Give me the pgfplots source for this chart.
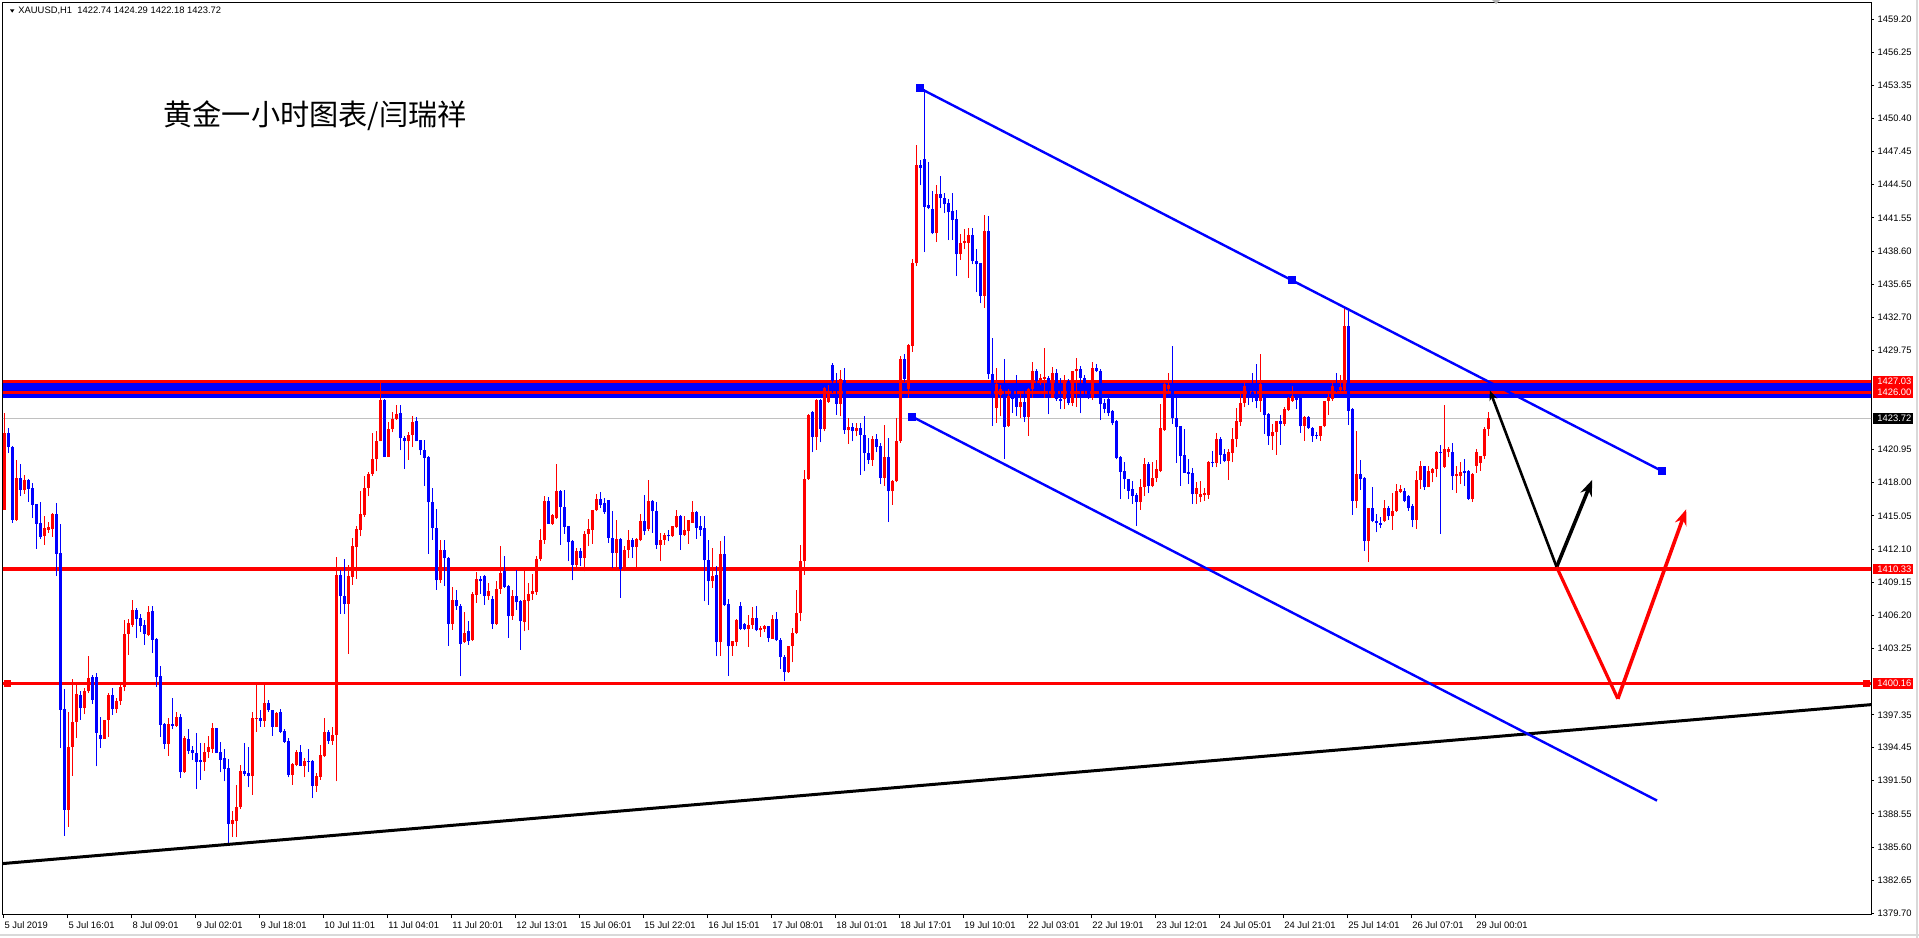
\documentclass[border=0pt]{standalone}
\usepackage{fontspec}
\setmainfont{Liberation Sans}
\newfontfamily\cjk{Noto Sans CJK SC}
\usepackage{pgfplots}
\usepackage{pgfplotstable}
\pgfplotsset{compat=1.18}
\usetikzlibrary{arrows.meta}

\definecolor{bidgray}{RGB}{192,192,192}

% hourly XAUUSD candles, x = bar number
\pgfplotstableread{
i o h l c
0 1415.58 1424.20 1415.58 1422.40
1 1422.40 1422.84 1420.62 1421.15
2 1421.15 1421.27 1414.45 1414.69
3 1414.69 1420.03 1414.63 1418.40
4 1418.40 1419.67 1416.77 1417.36
5 1417.36 1418.69 1417.00 1418.25
6 1418.25 1418.34 1416.32 1417.45
7 1417.50 1417.95 1414.84 1416.02
8 1416.10 1416.10 1412.11 1414.34
9 1414.40 1416.32 1412.97 1413.21
10 1413.30 1415.05 1412.47 1413.95
11 1413.80 1414.54 1413.56 1414.10
12 1413.90 1415.34 1413.21 1415.22
13 1415.22 1416.17 1409.71 1411.67
14 1411.73 1414.34 1394.39 1397.80
15 1397.85 1399.63 1386.59 1388.90
16 1388.90 1397.65 1387.42 1394.48
17 1394.48 1400.52 1391.93 1396.76
18 1396.70 1400.00 1395.28 1399.22
19 1399.13 1399.43 1396.90 1397.94
20 1397.94 1399.72 1397.40 1399.43
21 1399.43 1402.60 1399.28 1400.61
22 1400.70 1400.90 1398.33 1398.68
23 1400.76 1401.10 1392.76 1395.78
24 1395.57 1397.20 1394.39 1395.19
25 1395.19 1396.90 1395.19 1396.90
26 1396.90 1399.28 1395.40 1399.13
27 1399.13 1399.72 1397.35 1397.85
28 1397.85 1398.83 1397.50 1398.54
29 1398.54 1400.16 1398.24 1399.87
30 1399.87 1405.80 1399.43 1404.55
31 1404.55 1405.86 1402.70 1405.50
32 1405.35 1407.58 1405.20 1406.69
33 1406.69 1406.84 1404.17 1405.86
34 1405.95 1406.33 1404.76 1405.26
35 1405.35 1405.80 1403.58 1404.55
36 1404.46 1407.04 1404.32 1406.54
37 1406.63 1407.04 1402.84 1404.02
38 1404.08 1404.17 1399.87 1400.70
39 1400.82 1401.70 1395.40 1396.46
40 1396.55 1396.60 1394.30 1394.78
41 1394.78 1397.05 1393.70 1396.55
42 1396.55 1398.83 1396.07 1396.37
43 1396.37 1397.65 1396.30 1397.20
44 1397.20 1397.44 1391.72 1392.23
45 1392.23 1395.43 1392.20 1395.28
46 1395.19 1396.07 1393.88 1394.18
47 1394.24 1394.60 1393.35 1393.94
48 1393.94 1395.78 1390.74 1393.20
49 1393.30 1394.83 1391.60 1393.20
50 1393.20 1394.83 1392.40 1394.09
51 1394.09 1395.43 1393.50 1394.48
52 1394.30 1396.60 1394.00 1396.16
53 1396.16 1396.16 1393.94 1393.94
54 1394.09 1394.98 1392.23 1393.35
55 1393.50 1394.30 1391.43 1392.52
56 1392.60 1393.40 1385.88 1387.66
57 1387.66 1388.76 1386.50 1388.00
58 1387.95 1391.13 1386.50 1389.20
59 1389.14 1392.90 1388.96 1392.40
60 1392.40 1394.83 1391.90 1392.10
61 1392.20 1394.50 1390.92 1391.90
62 1391.90 1397.65 1390.24 1397.05
63 1397.05 1400.10 1395.87 1397.10
64 1397.05 1397.74 1396.30 1396.85
65 1396.85 1400.10 1396.30 1398.39
66 1398.39 1398.68 1397.65 1397.74
67 1397.74 1397.80 1395.48 1396.30
68 1396.30 1397.65 1396.25 1397.56
69 1397.65 1397.85 1395.72 1395.87
70 1395.96 1396.08 1394.83 1394.98
71 1395.07 1395.28 1391.80 1392.02
72 1392.02 1393.05 1391.13 1393.00
73 1392.90 1394.24 1392.76 1394.09
74 1394.09 1394.68 1392.76 1392.82
75 1392.82 1393.50 1391.80 1393.29
76 1393.29 1394.30 1392.30 1393.20
77 1393.29 1393.35 1389.94 1391.04
78 1391.04 1392.16 1390.53 1391.93
79 1391.87 1394.68 1391.57 1393.79
80 1393.65 1397.05 1393.59 1395.87
81 1395.87 1396.00 1394.78 1395.07
82 1395.07 1396.25 1394.68 1395.57
83 1395.57 1411.43 1391.43 1409.80
84 1409.82 1410.27 1406.35 1407.90
85 1407.95 1411.20 1406.35 1407.24
86 1407.24 1410.71 1402.80 1409.67
87 1409.60 1413.08 1408.93 1412.34
88 1412.28 1414.18 1409.44 1413.88
89 1413.82 1417.23 1413.23 1415.25
90 1415.16 1418.62 1414.95 1417.53
91 1417.53 1418.92 1416.79 1418.80
92 1418.80 1422.42 1418.62 1420.11
93 1420.11 1422.57 1419.01 1421.68
94 1421.68 1427.16 1421.68 1425.32
95 1425.32 1425.44 1420.28 1420.28
96 1420.28 1423.37 1420.28 1422.77
97 1422.77 1424.26 1422.48 1423.66
98 1423.66 1424.94 1423.60 1424.14
99 1424.20 1424.94 1420.88 1421.97
100 1421.97 1422.12 1419.22 1421.68
101 1421.68 1422.48 1420.05 1422.27
102 1422.27 1423.90 1421.17 1423.37
103 1423.46 1423.84 1421.68 1421.68
104 1421.77 1421.83 1420.50 1420.88
105 1420.94 1421.83 1417.74 1420.20
106 1420.28 1420.34 1411.69 1416.25
107 1416.25 1417.53 1412.93 1413.97
108 1413.97 1415.66 1408.49 1409.32
109 1409.32 1412.87 1409.08 1412.04
110 1412.04 1412.87 1408.84 1411.30
111 1411.30 1411.39 1403.51 1405.46
112 1405.46 1408.72 1404.93 1407.60
113 1407.60 1408.43 1406.71 1407.00
114 1407.06 1407.24 1400.78 1403.69
115 1403.80 1406.47 1403.75 1404.63
116 1404.78 1405.67 1403.60 1403.89
117 1403.98 1408.25 1403.90 1408.13
118 1408.04 1410.03 1407.30 1409.44
119 1409.44 1409.73 1408.13 1409.23
120 1409.73 1409.82 1407.15 1407.90
121 1407.90 1409.08 1407.60 1408.34
122 1407.65 1407.90 1405.00 1405.46
123 1405.46 1409.23 1405.37 1408.55
124 1408.55 1412.40 1408.13 1409.97
125 1410.12 1411.51 1408.64 1408.72
126 1408.84 1408.93 1404.19 1406.17
127 1406.17 1408.43 1405.82 1407.95
128 1407.95 1410.27 1406.71 1407.36
129 1407.45 1407.60 1403.15 1405.67
130 1405.58 1410.27 1404.78 1407.54
131 1407.45 1409.08 1404.87 1408.13
132 1408.13 1409.91 1407.60 1408.34
133 1408.25 1411.45 1408.04 1411.21
134 1411.21 1413.88 1411.00 1412.93
135 1412.93 1416.84 1412.58 1416.34
136 1416.34 1416.73 1414.36 1414.36
137 1414.36 1415.25 1414.27 1415.16
138 1414.86 1419.69 1414.77 1417.23
139 1417.23 1417.32 1412.49 1415.84
140 1415.84 1417.32 1413.47 1414.06
141 1414.12 1414.18 1411.00 1412.70
142 1412.78 1412.93 1409.32 1410.71
143 1410.71 1412.19 1410.50 1411.90
144 1411.90 1412.19 1410.56 1411.30
145 1411.30 1413.68 1410.12 1413.47
146 1413.47 1414.77 1412.34 1413.88
147 1413.82 1415.60 1412.58 1415.54
148 1415.54 1417.02 1415.45 1416.55
149 1416.55 1417.14 1415.75 1416.05
150 1416.19 1416.64 1415.25 1415.36
151 1416.43 1416.49 1412.64 1413.08
152 1413.08 1415.45 1410.41 1411.75
153 1411.75 1414.71 1410.33 1413.00
154 1413.00 1413.08 1407.75 1410.33
155 1410.33 1412.40 1410.12 1412.04
156 1412.04 1413.76 1411.30 1412.87
157 1412.87 1413.08 1411.30 1412.28
158 1412.28 1413.08 1410.50 1413.00
159 1412.87 1415.25 1412.78 1414.57
160 1414.57 1416.93 1413.38 1413.68
161 1413.90 1418.21 1413.70 1416.34
162 1416.34 1416.49 1413.53 1415.45
163 1415.45 1416.25 1412.10 1412.49
164 1412.49 1413.53 1411.00 1412.93
165 1412.93 1413.53 1412.49 1413.32
166 1413.32 1413.82 1412.78 1413.23
167 1413.23 1414.18 1413.17 1414.18
168 1414.06 1415.60 1413.97 1415.07
169 1415.07 1415.16 1412.05 1413.38
170 1413.38 1415.01 1413.29 1413.77
171 1413.68 1414.71 1412.58 1414.66
172 1414.42 1416.34 1414.42 1415.37
173 1415.37 1415.45 1413.00 1413.97
174 1414.12 1415.01 1413.29 1413.83
175 1413.97 1415.07 1407.45 1411.10
176 1411.16 1412.94 1407.16 1409.23
177 1409.23 1412.20 1408.64 1409.73
178 1409.82 1410.56 1402.56 1403.81
179 1403.81 1412.79 1402.62 1411.69
180 1411.69 1413.23 1407.07 1407.16
181 1407.25 1407.66 1400.84 1403.45
182 1403.45 1403.90 1402.62 1403.90
183 1403.81 1405.88 1403.45 1405.82
184 1407.07 1407.36 1404.93 1404.99
185 1405.47 1405.53 1404.87 1404.99
186 1404.99 1406.27 1403.39 1405.38
187 1405.38 1406.95 1404.99 1405.97
188 1405.97 1407.00 1404.78 1404.87
189 1404.87 1405.29 1404.28 1405.08
190 1404.99 1405.38 1404.70 1405.23
191 1405.23 1405.29 1403.81 1404.19
192 1404.10 1406.27 1404.10 1405.88
193 1405.88 1406.47 1403.90 1403.98
194 1404.04 1404.19 1401.44 1402.50
195 1402.50 1402.71 1400.34 1401.14
196 1401.14 1403.51 1401.08 1403.45
197 1403.45 1405.08 1402.03 1404.64
198 1404.64 1408.43 1404.58 1406.42
199 1406.42 1412.49 1405.67 1411.01
200 1411.01 1419.16 1409.82 1418.33
201 1418.33 1424.14 1418.27 1424.05
202 1424.26 1424.35 1420.70 1422.07
203 1422.07 1425.45 1420.94 1425.33
204 1425.33 1425.45 1421.59 1422.78
205 1422.78 1426.51 1422.57 1426.42
206 1425.20 1426.72 1425.09 1426.10
207 1428.50 1428.60 1426.00 1427.00
208 1425.83 1427.76 1424.05 1425.03
209 1425.03 1428.05 1423.90 1427.22
210 1427.10 1428.20 1422.36 1422.66
211 1422.66 1423.75 1421.47 1422.95
212 1422.95 1423.31 1421.68 1422.57
213 1422.57 1423.31 1422.12 1422.87
214 1422.87 1423.31 1418.72 1422.27
215 1422.27 1423.90 1419.01 1420.64
216 1420.64 1421.98 1419.69 1420.05
217 1420.05 1422.12 1419.52 1421.89
218 1421.89 1422.36 1420.70 1421.18
219 1421.24 1421.53 1417.92 1418.42
220 1418.42 1423.16 1417.74 1420.29
221 1420.29 1421.98 1414.48 1417.23
222 1417.23 1418.27 1416.05 1418.12
223 1418.12 1423.75 1418.03 1421.68
224 1421.68 1429.24 1421.53 1429.00
225 1429.02 1429.40 1426.95 1427.20
226 1426.30 1430.30 1425.55 1430.21
227 1430.15 1437.86 1429.62 1437.56
228 1437.50 1447.99 1437.26 1446.21
229 1446.21 1446.69 1444.44 1446.00
230 1446.81 1453.00 1438.51 1442.54
231 1442.66 1446.51 1442.30 1442.45
232 1442.36 1443.93 1440.08 1440.17
233 1440.17 1444.44 1439.40 1443.63
234 1443.63 1445.27 1442.45 1443.34
235 1443.34 1443.78 1441.95 1442.75
236 1442.84 1443.19 1439.57 1442.06
237 1442.15 1443.72 1439.57 1441.35
238 1441.41 1442.24 1436.37 1438.30
239 1438.30 1440.08 1437.80 1439.28
240 1439.28 1440.52 1438.74 1439.49
241 1439.34 1440.67 1436.23 1439.99
242 1439.99 1440.67 1437.41 1437.71
243 1437.71 1438.74 1434.95 1437.41
244 1437.50 1437.56 1433.94 1434.60
245 1434.60 1441.77 1433.56 1440.38
246 1440.38 1441.71 1427.19 1427.63
247 1427.63 1430.89 1423.04 1425.55
248 1424.67 1428.22 1423.33 1426.74
249 1425.80 1426.70 1423.90 1426.30
250 1425.55 1428.96 1420.13 1422.97
251 1423.03 1426.35 1422.97 1425.70
252 1426.30 1426.44 1424.22 1425.40
253 1425.55 1427.54 1423.92 1424.75
254 1424.75 1426.15 1423.78 1425.17
255 1425.17 1426.35 1423.39 1423.87
256 1423.87 1426.44 1422.15 1426.30
257 1426.36 1428.73 1425.55 1427.93
258 1427.93 1428.13 1426.30 1427.04
259 1427.04 1427.63 1426.65 1427.33
260 1427.25 1430.00 1425.55 1427.42
261 1427.33 1427.48 1424.07 1426.30
262 1425.55 1428.31 1425.55 1427.72
263 1427.72 1428.07 1425.26 1425.40
264 1425.40 1427.33 1424.52 1425.26
265 1425.40 1427.54 1424.58 1427.04
266 1427.04 1427.19 1424.87 1425.11
267 1425.11 1427.93 1424.81 1427.93
268 1427.90 1429.10 1424.75 1428.07
269 1428.07 1428.37 1424.16 1427.33
270 1427.33 1427.54 1425.55 1426.30
271 1426.30 1426.44 1425.46 1425.55
272 1425.55 1428.73 1425.35 1428.22
273 1428.22 1428.52 1427.84 1427.93
274 1427.93 1428.07 1423.57 1424.96
275 1425.05 1425.40 1424.16 1424.58
276 1425.46 1425.55 1423.92 1424.16
277 1424.37 1424.46 1423.09 1423.27
278 1423.48 1423.57 1420.07 1420.22
279 1420.31 1420.37 1416.52 1418.94
280 1419.03 1419.83 1417.47 1418.30
281 1418.30 1418.35 1416.52 1417.26
282 1417.44 1418.18 1416.10 1416.85
283 1416.90 1417.08 1414.18 1416.31
284 1416.31 1418.33 1415.60 1417.59
285 1417.59 1420.16 1416.84 1419.66
286 1419.66 1419.87 1417.08 1417.73
287 1417.73 1419.87 1417.59 1418.39
288 1418.39 1420.05 1418.03 1419.22
289 1419.07 1425.00 1418.92 1422.83
290 1422.71 1426.92 1422.62 1426.77
291 1426.33 1427.75 1426.18 1426.68
292 1426.68 1430.12 1423.22 1423.72
293 1423.72 1425.50 1419.75 1422.92
294 1423.01 1423.07 1417.73 1420.40
295 1420.46 1422.77 1418.86 1418.86
296 1418.98 1420.10 1417.88 1418.77
297 1418.86 1419.27 1416.10 1416.99
298 1416.99 1418.03 1416.10 1417.50
299 1416.76 1418.18 1416.25 1417.00
300 1416.90 1417.50 1416.40 1417.08
301 1416.90 1419.96 1416.55 1419.81
302 1419.87 1420.85 1419.37 1419.75
303 1419.75 1422.42 1419.37 1421.88
304 1421.88 1422.03 1419.66 1420.46
305 1420.55 1421.00 1419.81 1419.96
306 1419.96 1421.00 1418.27 1420.70
307 1420.64 1422.83 1419.81 1421.88
308 1421.88 1424.61 1421.14 1423.51
309 1423.42 1425.88 1423.07 1425.08
310 1425.08 1426.86 1424.70 1426.57
311 1426.18 1426.77 1424.91 1425.88
312 1426.03 1427.75 1425.14 1425.80
313 1425.74 1428.55 1424.61 1425.29
314 1425.29 1429.44 1424.31 1426.77
315 1425.74 1425.88 1422.33 1424.02
316 1424.11 1424.20 1421.35 1422.12
317 1422.12 1423.22 1420.93 1422.48
318 1422.48 1423.51 1420.46 1423.51
319 1423.51 1424.02 1421.35 1423.22
320 1423.22 1424.70 1423.07 1424.55
321 1424.49 1425.59 1424.40 1425.50
322 1425.29 1426.57 1425.20 1425.74
323 1425.74 1425.80 1424.55 1425.38
324 1425.74 1425.80 1422.42 1423.01
325 1423.01 1423.96 1421.74 1423.81
326 1423.81 1423.96 1422.77 1422.83
327 1422.83 1422.92 1421.65 1422.18
328 1422.24 1422.48 1421.88 1422.18
329 1422.18 1423.01 1421.74 1423.01
330 1423.01 1425.29 1422.92 1425.29
331 1425.29 1425.88 1424.02 1425.59
332 1425.44 1426.86 1425.29 1426.57
333 1426.33 1427.75 1426.10 1426.18
334 1426.27 1427.57 1426.18 1426.48
335 1426.27 1433.60 1426.10 1431.90
336 1431.90 1433.30 1423.13 1424.40
337 1424.55 1424.61 1415.13 1416.40
338 1416.40 1422.62 1415.72 1418.77
339 1418.77 1420.05 1417.38 1418.33
340 1418.39 1418.48 1411.95 1412.84
341 1412.84 1415.72 1410.98 1415.72
342 1415.72 1417.59 1414.47 1414.62
343 1414.62 1415.21 1413.58 1414.41
344 1414.41 1414.92 1413.94 1414.24
345 1414.62 1416.49 1414.53 1415.72
346 1415.72 1415.90 1414.71 1415.00
347 1415.00 1417.08 1413.82 1415.51
348 1415.51 1417.88 1415.42 1417.29
349 1417.20 1417.79 1417.08 1417.44
350 1417.29 1417.50 1416.25 1416.40
351 1416.84 1416.90 1415.51 1415.72
352 1415.90 1416.10 1414.03 1414.71
353 1414.71 1419.07 1413.88 1418.27
354 1418.27 1419.96 1417.44 1419.45
355 1419.45 1419.51 1417.38 1417.59
356 1417.59 1419.51 1417.59 1419.07
357 1418.86 1419.28 1418.03 1419.22
358 1419.22 1420.85 1418.48 1420.70
359 1420.76 1421.35 1413.44 1420.70
360 1419.37 1424.91 1419.28 1421.00
361 1420.70 1421.14 1420.25 1421.00
362 1420.76 1421.53 1417.38 1418.56
363 1418.56 1419.45 1417.08 1418.77
364 1418.62 1419.87 1417.88 1418.98
365 1419.07 1420.10 1417.73 1418.86
366 1419.07 1419.16 1416.49 1416.55
367 1416.55 1418.86 1416.31 1418.77
368 1419.51 1421.00 1418.86 1420.76
369 1419.75 1420.40 1419.07 1420.34
370 1420.34 1422.92 1420.10 1422.77
371 1422.74 1424.29 1422.18 1423.72
}\candles

\begin{document}
\begin{tikzpicture}
\fill[white] (0,0) rectangle (959.5pt,-469pt);
\path[use as bounding box] (0,0) rectangle (959.5pt,-469pt);
\draw[black!15, line width=1pt] (0,-467.5pt) -- (959.5pt,-467.5pt);
\draw[black!15, line width=1pt] (958.3pt,0) -- (958.3pt,-469pt);

\begin{axis}[
  at={(1.5pt,-457.35pt)}, anchor=south west,
  scale only axis, width=934pt, height=456pt,
  xmin=-0.33, xmax=466.7, ymin=1379.58, ymax=1460.68,
  clip mode=individual,
  axis line style={line width=0.5pt},
  tick align=outside, major tick length=1.6pt,
  tick style={black, line width=0.5pt},
  tick label style={font=\fontsize{4.7}{5}\selectfont},
  xtick pos=bottom, ytick pos=right, yticklabel pos=right,
  xtick={-0.3,15.7,31.7,47.7,63.7,79.7,95.7,111.7,127.7,143.7,159.7,175.7,191.7,207.7,223.7,239.7,255.7,271.7,287.7,303.7,319.7,335.7,351.7,367.7},
  xticklabels={5 Jul 2019,5 Jul 16:01,8 Jul 09:01,9 Jul 02:01,9 Jul 18:01,10 Jul 11:01,11 Jul 04:01,11 Jul 20:01,12 Jul 13:01,15 Jul 06:01,15 Jul 22:01,16 Jul 15:01,17 Jul 08:01,18 Jul 01:01,18 Jul 17:01,19 Jul 10:01,22 Jul 03:01,22 Jul 19:01,23 Jul 12:01,24 Jul 05:01,24 Jul 21:01,25 Jul 14:01,26 Jul 07:01,29 Jul 00:01},
  xticklabel style={anchor=north west, inner sep=0pt, xshift=0.5pt, yshift=-1.5pt},
  ytick={1379.70,1382.65,1385.60,1388.55,1391.50,1394.45,1397.35,1403.25,1406.20,1409.15,1412.10,1415.05,1418.00,1420.95,1429.75,1432.70,1435.65,1438.60,1441.55,1444.50,1447.45,1450.40,1453.35,1456.25,1459.20},
  yticklabels={1379.70,1382.65,1385.60,1388.55,1391.50,1394.45,1397.35,1403.25,1406.20,1409.15,1412.10,1415.05,1418.00,1420.95,1429.75,1432.70,1435.65,1438.60,1441.55,1444.50,1447.45,1450.40,1453.35,1456.25,1459.20},
  yticklabel style={anchor=west, inner sep=0pt, xshift=1.5pt},
]

% bid line and resistance band
\addplot[forget plot, bidgray, line width=0.5pt] coordinates {(-1,1423.72) (470,1423.72)};
\addplot[forget plot, blue, line width=8.8pt] coordinates {(-1,1426.30) (470,1426.30)};
\addplot[forget plot, red, line width=1.4pt] coordinates {(-1,1426.97) (470,1426.97)};
\addplot[forget plot, red, line width=1.5pt] coordinates {(-1,1426.02) (470,1426.02)};
\addplot[forget plot, red, line width=1.6pt] coordinates {(-1,1410.33) (470,1410.33)};
\addplot[forget plot, red, line width=1.5pt] coordinates {(-1,1400.16) (470,1400.16)};
\addplot[forget plot, red, only marks, mark=square*, mark size=1.6pt] coordinates {(0.7,1400.16) (465.6,1400.16)};

% wicks and bodies, red = close above open
\addplot[forget plot, draw=none, mark=none,
  y filter/.expression={\thisrow{c}>=\thisrow{o} ? y : nan},
  error bars/.cd, y dir=plus, y explicit, error mark=none,
  error bar style={draw=red, line width=0.5pt}]
  table[x=i, y=l, y error plus expr={\thisrow{h}-\thisrow{l}}] {\candles};
\addplot[forget plot, draw=none, mark=none,
  y filter/.expression={\thisrow{c}<\thisrow{o} ? y : nan},
  error bars/.cd, y dir=plus, y explicit, error mark=none,
  error bar style={draw=blue, line width=0.5pt}]
  table[x=i, y=l, y error plus expr={\thisrow{h}-\thisrow{l}}] {\candles};
\addplot[forget plot, draw=none, mark=none,
  y filter/.expression={\thisrow{c}>=\thisrow{o} ? y : nan},
  error bars/.cd, y dir=plus, y explicit, error mark=none,
  error bar style={draw=red, line width=1.5pt}]
  table[x=i, y=o, y error plus expr={\thisrow{c}-\thisrow{o}}] {\candles};
\addplot[forget plot, draw=none, mark=none,
  y filter/.expression={\thisrow{c}<\thisrow{o} ? y : nan},
  error bars/.cd, y dir=plus, y explicit, error mark=none,
  error bar style={draw=blue, line width=1.5pt}]
  table[x=i, y=c, y error plus expr={\thisrow{o}-\thisrow{c}}] {\candles};

% support line and channel
\addplot[forget plot, black, line width=1.5pt] coordinates {(-0.33,1384.13) (466.7,1398.26)};
\addplot[forget plot, blue, line width=1.2pt, mark=square*, mark size=1.5pt, mark options={fill=blue}]
  coordinates {(228.9,1453.07) (321.9,1436.0) (414.4,1419.04)};
\addplot[forget plot, blue, line width=1.2pt, mark=square*, mark size=1.5pt, mark indices={1}, mark options={fill=blue}]
  coordinates {(227.0,1423.86) (413.2,1389.73)};

% projected path
\addplot[forget plot, black, line width=1.3pt, -{Stealth[length=5pt,width=4pt]}] coordinates {(388.1,1410.5) (371.4,1426.2)};
\addplot[forget plot, black, line width=1.8pt, -{Stealth[length=8pt,width=6pt]}] coordinates {(388.1,1410.5) (397.0,1418.25)};
\addplot[forget plot, red, line width=1.6pt] coordinates {(388.1,1410.5) (403.4,1398.78)};
\addplot[forget plot, red, line width=1.8pt, -{Stealth[length=8pt,width=6pt]}] coordinates {(403.4,1398.78) (420.5,1415.64)};

% price tags on the right scale
\tikzset{tag/.style={anchor=west, inner xsep=2pt, inner ysep=0pt, text width=16pt, minimum height=5.4pt, text=white, font=\fontsize{4.7}{5}\selectfont, xshift=1pt}}
\node[tag, fill=red] at (axis cs:466.7,1427.03) {1427.03};
\node[tag, fill=red] at (axis cs:466.7,1426.00) {1426.00};
\node[tag, fill=black] at (axis cs:466.7,1423.72) {1423.72};
\node[tag, fill=red] at (axis cs:466.7,1410.33) {1410.33};
\node[tag, fill=red] at (axis cs:466.7,1400.16) {1400.16};
\end{axis}

\fill[black] (5pt,-4.7pt) -- (7.2pt,-4.7pt) -- (6.1pt,-6.3pt) -- cycle;
\node[anchor=west, inner sep=0pt, font=\fontsize{4.7}{5}\selectfont] at (9pt,-5.5pt) {XAUUSD,H1\ \ 1422.74 1424.29 1422.18 1423.72};
\fill[black!30] (746pt,0) -- (750pt,0) -- (748pt,-2pt) -- cycle;
\node[anchor=base west, inner sep=0pt, font=\cjk\fontsize{14.6}{15}\selectfont] at (81.5pt,-62.8pt) {黄金一小时图表/闫瑞祥};
\end{tikzpicture}
\end{document}
